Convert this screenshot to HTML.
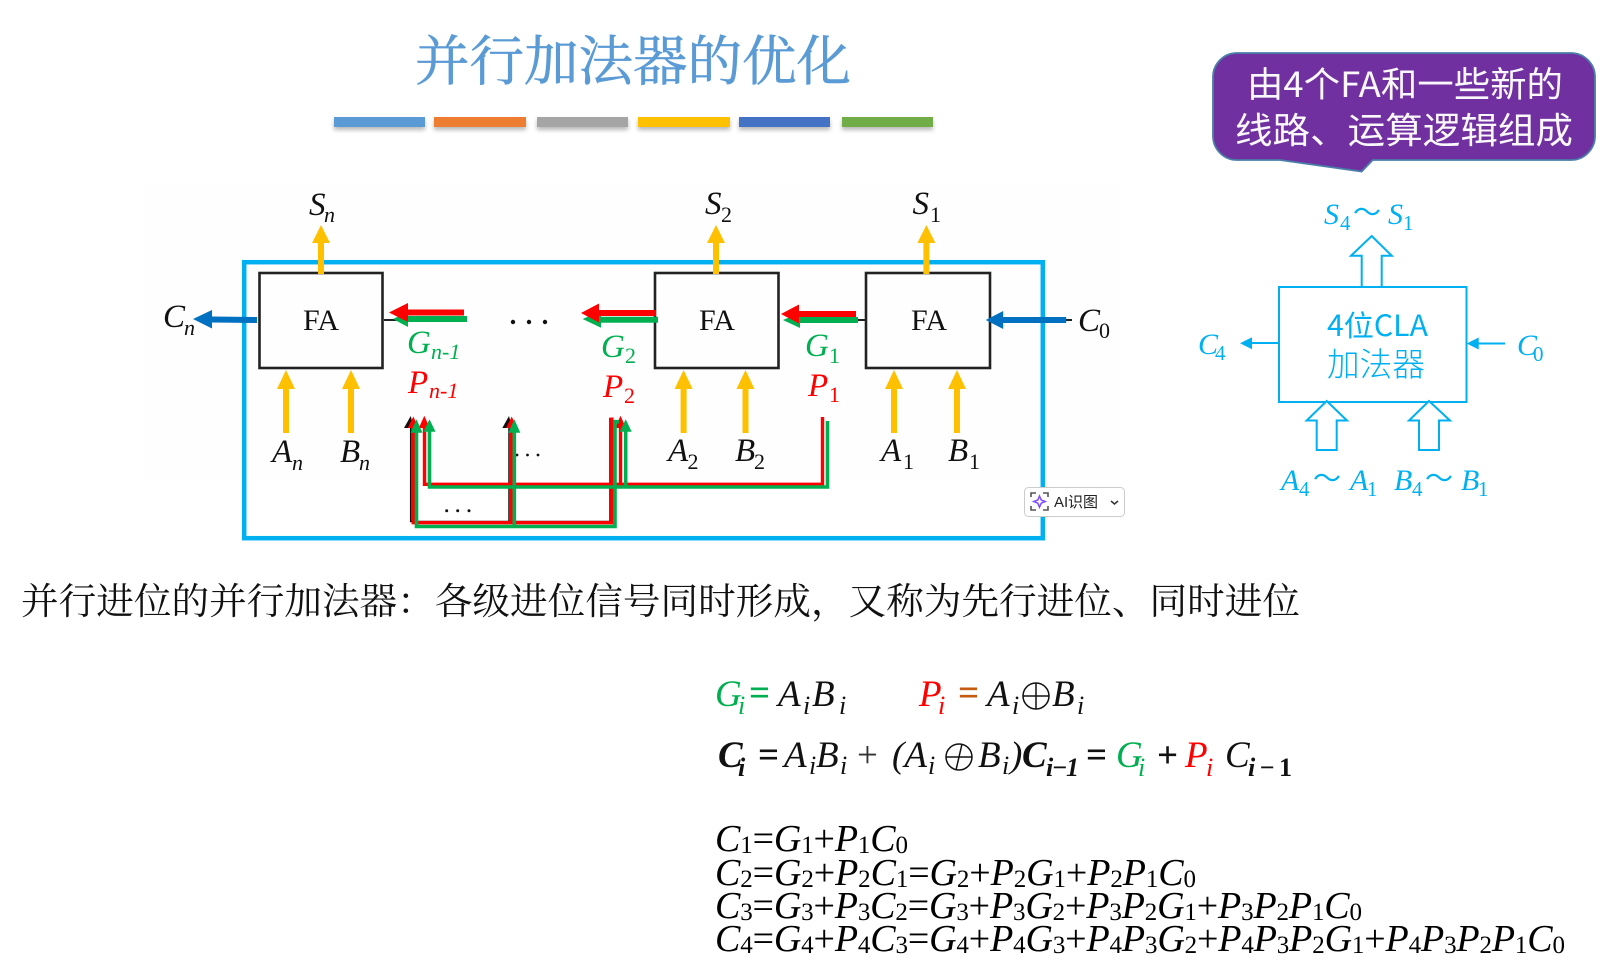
<!DOCTYPE html>
<html lang="zh"><head><meta charset="utf-8"><title>并行加法器的优化</title>
<style>
html,body{margin:0;padding:0;background:#fff;width:1624px;height:970px;overflow:hidden}
svg{display:block}
text{white-space:pre}
.t{font-family:"Liberation Serif","Noto Serif CJK SC",serif;font-style:italic;font-size:33px;fill:#111}
.s{font-size:22px}
.c{font-family:"Liberation Serif",serif;font-style:italic;font-size:30px;fill:#00B0F0}
.cs{font-size:21px;font-style:normal}
.w{font-family:"Noto Sans CJK SC",sans-serif;font-style:normal;font-size:28px;fill:#00B0F0}
.f{font-family:"Liberation Serif",serif;font-style:italic;font-size:38px;fill:#000}
.fs{font-size:25px;font-style:normal}
.m{font-family:"Liberation Serif",serif;font-style:italic;font-size:37px;fill:#111}
.ms{font-size:26px}
.b{font-weight:bold}
.u{font-style:normal}
.g{fill:#00B050}.r{fill:#FF0000}
</style></head><body>
<svg width="1624" height="970" viewBox="0 0 1624 970" xmlns="http://www.w3.org/2000/svg">
<defs><filter id="sh" x="-10%" y="-50%" width="120%" height="250%"><feGaussianBlur stdDeviation="2"/></filter></defs>
<rect width="1624" height="970" fill="#fff"/>
<rect x="145" y="185" width="975" height="295" fill="#fefefe"/>

<!-- title -->
<text x="415" y="80" font-family="'Noto Serif CJK SC',serif" font-size="54" fill="#5B9BD5" stroke="#5B9BD5" stroke-width=".6" textLength="436" lengthAdjust="spacingAndGlyphs">并行加法器的优化</text>
<g fill="#888" opacity=".6" filter="url(#sh)">
<rect x="334" y="120" width="91" height="10"/><rect x="434" y="120" width="92" height="10"/><rect x="537" y="120" width="91" height="10"/><rect x="638" y="120" width="92" height="10"/><rect x="739" y="120" width="91" height="10"/><rect x="842" y="120" width="91" height="10"/>
</g>
<rect x="334" y="117" width="91" height="10" fill="#5B9BD5"/>
<rect x="434" y="117" width="92" height="10" fill="#ED7D31"/>
<rect x="537" y="117" width="91" height="10" fill="#A5A5A5"/>
<rect x="638" y="117" width="92" height="10" fill="#FFC000"/>
<rect x="739" y="117" width="91" height="10" fill="#4472C4"/>
<rect x="842" y="117" width="91" height="10" fill="#70AD47"/>

<!-- blue frame -->
<rect x="244.2" y="262.2" width="798.6" height="276" fill="none" stroke="#00B0F0" stroke-width="4.5"/>

<!-- FA boxes -->
<g fill="none" stroke="#222" stroke-width="2.6">
<rect x="259.5" y="273" width="123" height="95"/>
<rect x="655" y="273" width="123.5" height="95"/>
<rect x="866" y="273" width="124" height="95"/>
</g>
<g font-family="'Liberation Serif',serif" font-size="30" fill="#111" text-anchor="middle">
<text x="321" y="330">FA</text><text x="717" y="330">FA</text><text x="929" y="330">FA</text>
</g>

<!-- yellow arrows -->
<g fill="#FFC000">
<path d="M321 225l9 18h-6v31h-6v-31h-6z"/>
<path d="M716 225l9 18h-6v31h-6v-31h-6z"/>
<path d="M926.4 225l9 18h-6v31h-6v-31h-6z"/>
<path d="M286 370l9 19h-6v44h-6v-44h-6z"/>
<path d="M351 370l9 19h-6v44h-6v-44h-6z"/>
<path d="M683.6 370l9 19h-6v44h-6v-44h-6z"/>
<path d="M745.500 370l9 19h-6v44h-6v-44h-6z"/>
<path d="M894 370l9 19h-6v44h-6v-44h-6z"/>
<path d="M957 370l9 19h-6v44h-6v-44h-6z"/>
</g>

<!-- black carry bits -->
<path d="M384 320H400M858 320H866M1066 320H1072" stroke="#222" stroke-width="2" fill="none"/>

<!-- blue carry arrows -->
<path d="M193 319l19-9v6.5l45 .5v6l-45-.5v6z" fill="#0070C0"/>
<path d="M985.7 320l17.5-9v6h63v6h-63v6z" fill="#0070C0"/>

<!-- carry arrows green under red -->
<g fill="#00B050">
<path d="M393 319l15-7v4h59v6h-59v5z"/>
<path d="M582.6 319l18.4-8v5.700h57v6h-57v5z"/>
<path d="M783 320l17-7v4h58v6h-58v5z"/>
</g>
<g fill="#FF0000">
<path d="M389 312.500l19-9.500v6.500h56v6h-56v6.500z"/>
<path d="M581 313l18-9.500v6.500h57v6h-57v6.500z"/>
<path d="M781 314l18-9.500v6.500h57v6h-57v6.500z"/>
</g>

<!-- dots -->
<g fill="#111">
<circle cx="513" cy="322" r="2.200"/><circle cx="529" cy="322" r="2.200"/><circle cx="545" cy="322" r="2.200"/>
<circle cx="517" cy="455" r="1.400"/><circle cx="527.500" cy="455" r="1.400"/><circle cx="538" cy="455" r="1.400"/>
<circle cx="446.700" cy="510.700" r="1.500"/><circle cx="457.700" cy="510.700" r="1.500"/><circle cx="469" cy="510.700" r="1.500"/>
</g>

<!-- black bus lines -->
<path d="M410.700 425V521.500H610V417.700M509 425V521.500" fill="none" stroke="#111" stroke-width="1.500"/>
<path d="M410.700 416l-6.700 12h10zM509 416l-6.700 12h10z" fill="#111"/>
<!-- red bus -->
<path d="M413.300 425V522.700H611.800V417.500M511.700 425V522.700M424.500 425V484.300H822.500V417M620.500 425V484.300" fill="none" stroke="#FF0000" stroke-width="3.400"/>
<path d="M413.300 416.500l-5.500 11.500h11zM424.300 415.700l-5.500 12.300h11zM511.700 416.500l-5.500 11.500h11zM620.500 415.700l-5.500 12.300h11z" fill="#FF0000"/>
<!-- green bus -->
<path d="M416.500 430V526.500H615V421.700H619M514.300 430V526.500M429.500 430V487H827.500V421M625.700 430V487" fill="none" stroke="#00B050" stroke-width="3.600"/>
<path d="M416.500 419.300l-6 13.400h12zM429.500 419.300l-6 12.400h12zM514.300 419.300l-6 13.400h12zM625.700 419.300l-6 12.400h12z" fill="#00B050"/>

<!-- diagram labels -->
<g>
<text class="t" x="309" y="215">S</text><text class="t s" x="324" y="222">n</text>
<text class="t" x="705" y="214">S</text><text class="t s u" x="721" y="222">2</text>
<text class="t" x="912.500" y="214">S</text><text class="t s u" x="930" y="222">1</text>
<text class="t" x="163" y="327">C</text><text class="t s" x="184" y="335">n</text>
<text class="t" x="1078" y="331">C</text><text class="t s u" x="1099" y="338">0</text>
<text class="t" x="272" y="462">A</text><text class="t s" x="292" y="470">n</text>
<text class="t" x="340" y="462">B</text><text class="t s" x="359" y="470">n</text>
<text class="t" x="668" y="461">A</text><text class="t s u" x="687.500" y="469">2</text>
<text class="t" x="735" y="461">B</text><text class="t s u" x="754" y="469">2</text>
<text class="t" x="881" y="461">A</text><text class="t s u" x="903" y="469">1</text>
<text class="t" x="948" y="461">B</text><text class="t s u" x="969" y="469">1</text>
<text class="t g" x="407" y="353">G</text><text class="t s g" x="431" y="359">n-1</text>
<text class="t r" x="408" y="393">P</text><text class="t s r" x="429" y="398">n-1</text>
<text class="t g" x="601" y="357">G</text><text class="t s u g" x="625" y="363">2</text>
<text class="t r" x="603" y="397">P</text><text class="t s u r" x="624" y="403">2</text>
<text class="t g" x="805" y="356">G</text><text class="t s u g" x="829" y="363">1</text>
<text class="t r" x="808" y="396">P</text><text class="t s u r" x="829" y="402">1</text>
</g>

<!-- AI widget -->
<rect x="1024.500" y="487.500" width="100" height="29" rx="4" fill="#fff" stroke="#ccc"/>
<path d="M1031 497v-4h5M1043 493h5v4M1048 506v4h-5M1036 510h-5v-4" fill="none" stroke="#555" stroke-width="1.600"/>
<path d="M1039.500 496l1.700 4 4 1.500-4 1.700-1.700 4-1.700-4-4-1.700 4-1.500z" fill="none" stroke="#7C4DFF" stroke-width="1.500"/>
<text x="1054" y="507" font-family="'Liberation Sans','Noto Sans CJK SC',sans-serif" font-size="15" fill="#222" textLength="44">AI识图</text>
<path d="M1111 501l3.500 3 3.500-3" fill="none" stroke="#333" stroke-width="1.500"/>

<!-- callout -->
<path d="M1236 53H1571a24 24 0 0 1 24 24V136a24 24 0 0 1-24 24H1372.700L1361.700 171.500L1280 160H1237a24 24 0 0 1-24-24V77a24 24 0 0 1 23-24z" fill="#7030A0" stroke="#4A7EA8" stroke-width="1.800"/>
<text x="1247" y="97" font-family="'Noto Sans CJK SC',sans-serif" font-size="35" fill="#fff" textLength="316" lengthAdjust="spacingAndGlyphs" opacity=".97">由4个FA和一些新的</text>
<text x="1235" y="143" font-family="'Noto Sans CJK SC',sans-serif" font-size="36" fill="#fff" textLength="338" lengthAdjust="spacingAndGlyphs" opacity=".97">线路、运算逻辑组成</text>

<!-- CLA diagram -->
<g fill="none" stroke="#00B0F0" stroke-width="2">
<rect x="1279" y="287" width="187.500" height="115"/>
<path d="M1361.700 287V255.700H1351L1371.700 236L1391.700 255.700H1381.700V287"/>
<path d="M1326.700 401L1347 420.500H1336.700V450H1316.700V420.500H1306.700z" fill="#fff"/>
<path d="M1429 401L1450 420.500H1439V450H1419V420.500H1409z" fill="#fff"/>
<path d="M1279 343H1250M1505 343.500H1476"/>
</g>
<path d="M1240 343.300l12-6v12zM1466.700 343.500l12-6v12z" fill="#00B0F0"/>
<text x="1327" y="336" font-family="'Noto Sans CJK SC',sans-serif" font-size="29" fill="#00B0F0" textLength="101" lengthAdjust="spacingAndGlyphs">4位CLA</text>
<text x="1327" y="376" font-family="'Noto Sans CJK SC',sans-serif" font-size="33" font-weight="300" fill="#00B0F0" textLength="98" lengthAdjust="spacingAndGlyphs">加法器</text>
<g>
<text class="c" x="1324" y="224">S</text><text class="c cs" x="1340" y="230">4</text><text class="w" x="1353" y="222">〜</text><text class="c" x="1388" y="224">S</text><text class="c cs" x="1403" y="230">1</text>
<text class="c" x="1198" y="354">C</text><text class="c cs" x="1215" y="360">4</text>
<text class="c" x="1517" y="355">C</text><text class="c cs" x="1533" y="361">0</text>
<text class="c" x="1281" y="490">A</text><text class="c cs" x="1299" y="496">4</text><text class="w" x="1313" y="488">〜</text><text class="c" x="1350" y="490">A</text><text class="c cs" x="1367" y="496">1</text>
<text class="c" x="1394" y="490">B</text><text class="c cs" x="1412" y="496">4</text><text class="w" x="1425" y="488">〜</text><text class="c" x="1461" y="490">B</text><text class="c cs" x="1478" y="496">1</text>
</g>

<!-- main sentence -->
<text x="21" y="614" font-family="'Noto Serif CJK SC',serif" font-size="37" fill="#111" textLength="1279" lengthAdjust="spacingAndGlyphs">并行进位的并行加法器&#xFF1A;各级进位信号同时形成&#xFF0C;又称为先行进位、同时进位</text>

<!-- row 1 -->
<text class="m g" x="715" y="706">G</text><text class="m ms g" x="738" y="714">i</text>
<text class="m b g u" x="749" y="705" font-size="32">=</text>
<text class="m" x="778" y="706">A</text><text class="m ms" x="803" y="714">i</text><text class="m" x="812" y="706">B</text><text class="m ms" x="839" y="714">i</text>
<text class="m r" x="919" y="706">P</text><text class="m ms r" x="938" y="714">i</text>
<text class="m b u" x="958" y="705" style="fill:#C55A11">=</text>
<text class="m" x="987" y="706">A</text><text class="m ms" x="1012" y="714">i</text>
<g fill="none" stroke="#111" stroke-width="1.500"><circle cx="1036" cy="696" r="13"/><path d="M1023 696H1049M1036 683V709"/></g>
<text class="m" x="1052" y="706">B</text><text class="m ms" x="1077" y="714">i</text>

<!-- row 2 -->
<text class="m b" x="718" y="767">C</text><text class="m ms b" x="738" y="776">i</text>
<text class="m b u" x="758" y="767">=</text>
<text class="m" x="784" y="767">A</text><text class="m ms" x="809" y="774">i</text><text class="m" x="816" y="767">B</text><text class="m ms" x="840" y="774">i</text>
<text class="m u" x="857" y="767" style="fill:#333">+</text>
<text class="m" x="892" y="767">(A</text><text class="m ms" x="928" y="774">i</text>
<g fill="none" stroke="#111" stroke-width="1.500"><circle cx="959" cy="757" r="13"/><path d="M946 757H972M962 744L956 770"/></g>
<text class="m" x="978" y="767">B</text><text class="m ms" x="1002" y="774">i</text><text class="m" x="1010" y="767">)</text>
<text class="m b" x="1022" y="767">C</text><text class="m ms b" x="1046" y="776" textLength="33">i−1</text>
<text class="m b u" x="1086" y="767">=</text>
<text class="m g" x="1116" y="767">G</text><text class="m ms g" x="1138" y="776">i</text>
<text class="m b u" x="1157" y="767">+</text>
<text class="m r" x="1185" y="767">P</text><text class="m ms r" x="1206" y="776">i</text>
<text class="m" x="1225" y="767">C</text><text class="m ms b" x="1248" y="776" textLength="44">i<tspan class="u">−1</tspan></text>

<!-- equations -->
<text class="f" x="715" y="851" textLength="193">C<tspan class="fs" dy="2">1</tspan><tspan dy="-2" class="u">=</tspan>G<tspan class="fs" dy="2">1</tspan><tspan dy="-2" class="u">+</tspan>P<tspan class="fs" dy="2">1</tspan><tspan dy="-2">C</tspan><tspan class="fs" dy="2">0</tspan></text>
<text class="f" x="715" y="885" textLength="481">C<tspan class="fs" dy="2">2</tspan><tspan dy="-2" class="u">=</tspan>G<tspan class="fs" dy="2">2</tspan><tspan dy="-2" class="u">+</tspan>P<tspan class="fs" dy="2">2</tspan><tspan dy="-2">C</tspan><tspan class="fs" dy="2">1</tspan><tspan dy="-2" class="u">=</tspan>G<tspan class="fs" dy="2">2</tspan><tspan dy="-2" class="u">+</tspan>P<tspan class="fs" dy="2">2</tspan><tspan dy="-2">G</tspan><tspan class="fs" dy="2">1</tspan><tspan dy="-2" class="u">+</tspan>P<tspan class="fs" dy="2">2</tspan><tspan dy="-2">P</tspan><tspan class="fs" dy="2">1</tspan><tspan dy="-2">C</tspan><tspan class="fs" dy="2">0</tspan></text>
<text class="f" x="715" y="918" textLength="647">C<tspan class="fs" dy="2">3</tspan><tspan dy="-2" class="u">=</tspan>G<tspan class="fs" dy="2">3</tspan><tspan dy="-2" class="u">+</tspan>P<tspan class="fs" dy="2">3</tspan><tspan dy="-2">C</tspan><tspan class="fs" dy="2">2</tspan><tspan dy="-2" class="u">=</tspan>G<tspan class="fs" dy="2">3</tspan><tspan dy="-2" class="u">+</tspan>P<tspan class="fs" dy="2">3</tspan><tspan dy="-2">G</tspan><tspan class="fs" dy="2">2</tspan><tspan dy="-2" class="u">+</tspan>P<tspan class="fs" dy="2">3</tspan><tspan dy="-2">P</tspan><tspan class="fs" dy="2">2</tspan><tspan dy="-2">G</tspan><tspan class="fs" dy="2">1</tspan><tspan dy="-2" class="u">+</tspan>P<tspan class="fs" dy="2">3</tspan><tspan dy="-2">P</tspan><tspan class="fs" dy="2">2</tspan><tspan dy="-2">P</tspan><tspan class="fs" dy="2">1</tspan><tspan dy="-2">C</tspan><tspan class="fs" dy="2">0</tspan></text>
<text class="f" x="715" y="951" textLength="850">C<tspan class="fs" dy="2">4</tspan><tspan dy="-2" class="u">=</tspan>G<tspan class="fs" dy="2">4</tspan><tspan dy="-2" class="u">+</tspan>P<tspan class="fs" dy="2">4</tspan><tspan dy="-2">C</tspan><tspan class="fs" dy="2">3</tspan><tspan dy="-2" class="u">=</tspan>G<tspan class="fs" dy="2">4</tspan><tspan dy="-2" class="u">+</tspan>P<tspan class="fs" dy="2">4</tspan><tspan dy="-2">G</tspan><tspan class="fs" dy="2">3</tspan><tspan dy="-2" class="u">+</tspan>P<tspan class="fs" dy="2">4</tspan><tspan dy="-2">P</tspan><tspan class="fs" dy="2">3</tspan><tspan dy="-2">G</tspan><tspan class="fs" dy="2">2</tspan><tspan dy="-2" class="u">+</tspan>P<tspan class="fs" dy="2">4</tspan><tspan dy="-2">P</tspan><tspan class="fs" dy="2">3</tspan><tspan dy="-2">P</tspan><tspan class="fs" dy="2">2</tspan><tspan dy="-2">G</tspan><tspan class="fs" dy="2">1</tspan><tspan dy="-2" class="u">+</tspan>P<tspan class="fs" dy="2">4</tspan><tspan dy="-2">P</tspan><tspan class="fs" dy="2">3</tspan><tspan dy="-2">P</tspan><tspan class="fs" dy="2">2</tspan><tspan dy="-2">P</tspan><tspan class="fs" dy="2">1</tspan><tspan dy="-2">C</tspan><tspan class="fs" dy="2">0</tspan></text>
</svg>
</body></html>
